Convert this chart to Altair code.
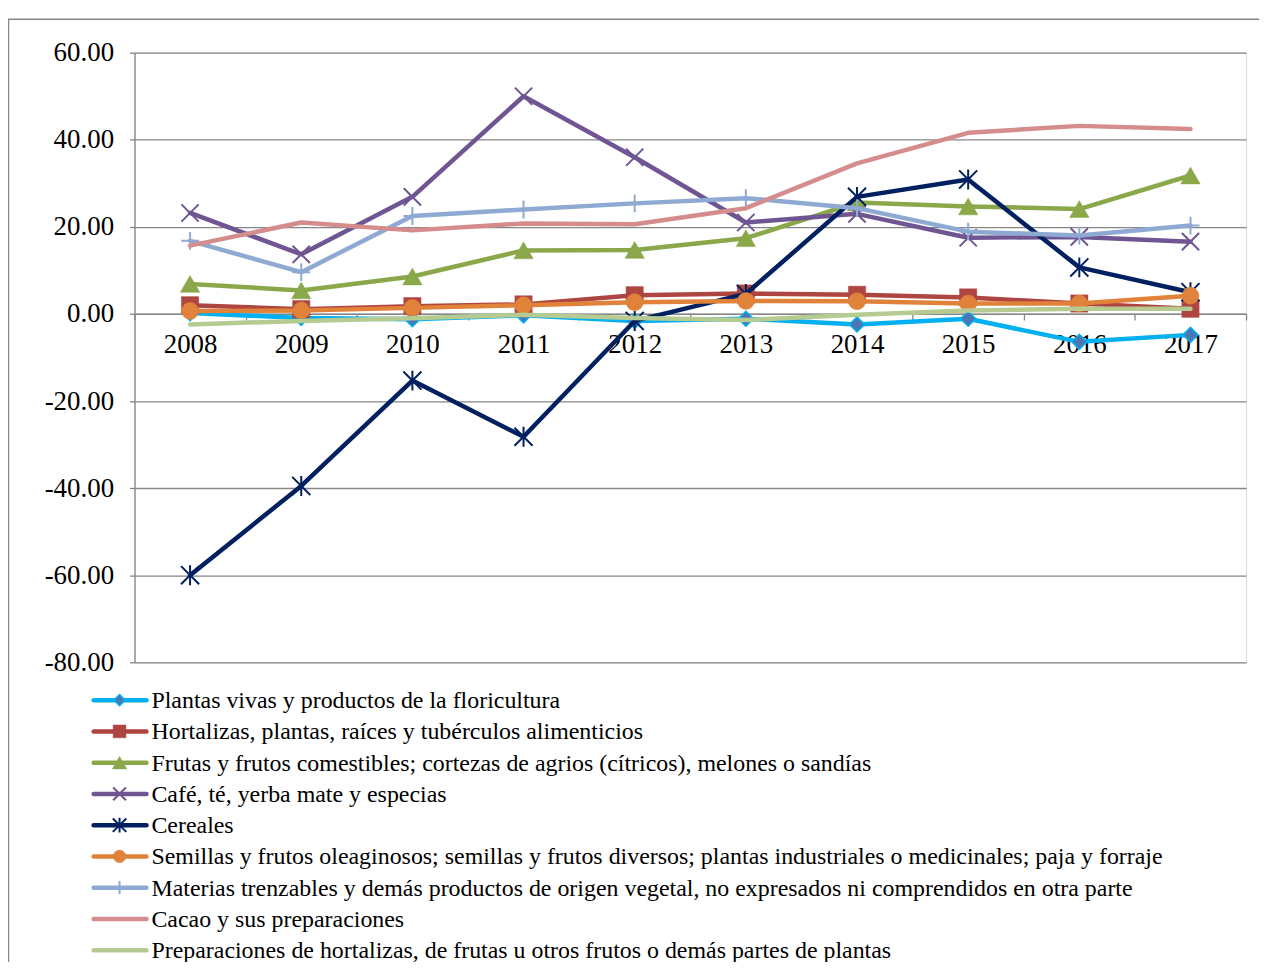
import altair as alt
import pandas as pd

years = [str(y) for y in range(2008, 2018)]

series = [
    "Plantas vivas y productos de la floricultura",
    "Hortalizas, plantas, raíces y tubérculos alimenticios",
    "Frutas y frutos comestibles; cortezas de agrios (cítricos), melones o sandías",
    "Café, té, yerba mate y especias",
    "Cereales",
    "Semillas y frutos oleaginosos; semillas y frutos diversos; plantas industriales o medicinales; paja y forraje",
    "Materias trenzables y demás productos de origen vegetal, no expresados ni comprendidos en otra parte",
    "Cacao y sus preparaciones",
    "Preparaciones de hortalizas, de frutas u otros frutos o demás partes de plantas",
]

plantas = [0.2, -0.9, -1.2, -0.3, -1.6, -1.1, -2.4, -1.1, -6.4, -4.8]
hortalizas = [2.0, 1.1, 1.8, 2.2, 4.3, 4.7, 4.4, 3.8, 2.4, 1.2]
frutas = [6.9, 5.4, 8.6, 14.6, 14.7, 17.4, 25.6, 24.7, 24.1, 31.8]
cafe = [23.2, 13.7, 26.9, 50.0, 36.0, 21.0, 23.0, 17.5, 17.7, 16.6]
cereales = [-60.0, -39.5, -15.3, -28.2, -1.6, 4.6, 26.9, 30.9, 10.7, 5.0]
semillas = [0.7, 0.8, 1.4, 2.0, 2.7, 3.0, 2.9, 2.4, 2.4, 4.2]
materias = [16.8, 9.6, 22.5, 24.0, 25.4, 26.6, 24.3, 18.9, 18.0, 20.3]
cacao = [15.7, 21.0, 19.2, 20.8, 20.6, 24.3, 34.6, 41.6, 43.2, 42.5]
preparaciones = [-2.4, -1.6, -1.0, -0.2, -0.9, -1.4, -0.2, 0.8, 1.2, 1.2]

values = [plantas, hortalizas, frutas, cafe, cereales, semillas, materias, cacao, preparaciones]

y_ticks = [-80, -60, -40, -20, 0, 20, 40, 60]

# styles
line_colors = ["#00B0F0", "#AE4541", "#8AA84A", "#6F5592", "#002060",
               "#E0823A", "#8EAAD2", "#D48D8C", "#B5CB91"]
X_PATH = "M-1,-1L1,1M-1,1L1,-1"
AST_PATH = "M-1,-1L1,1M-1,1L1,-1M0,-1.1L0,1.1"
PLUS_PATH = "M-1,0L1,0M0,-1L0,1"
marker_shape = ["diamond", "square", "triangle-up", X_PATH, AST_PATH, "circle", PLUS_PATH, None, None]
marker_filled = [True, True, True, False, False, True, False, False, False]
marker_fill = ["#4A76B3", "#AE4541", "#8AA84A", None, None, "#E0823A", None, None, None]
marker_stroke = ["#00B0F0", "#AE4541", "#8AA84A", "#6F5592", "#002060", "#E0823A", "#8EAAD2", None, None]
marker_sw = [1.5, 0.5, 0.5, 2, 2, 0.5, 2, 0, 0]
marker_size = [230, 300, 380, 300, 330, 290, 320, 0, 0]

FONT = "Liberation Serif"
GREY = "#868686"
W, H = 1116, 612
ymin, ymax = -80, 60

rows = []
for s, vals in zip(series, values):
    for yr, v in zip(years, vals):
        rows.append({"serie": s, "anio": yr, "valor": v})
df = pd.DataFrame(rows)
leg_df = pd.DataFrame({"serie": series})

x_enc = alt.X(
    "anio:O",
    bandPosition=0.5,
    scale=alt.Scale(type="band", domain=years, paddingInner=0, paddingOuter=0),
    axis=alt.Axis(
        title=None, orient="bottom", offset=-H * (0 - ymin) / (ymax - ymin),
        labelAngle=0, labelFont=FONT, labelFontSize=27, labelColor="black",
        labelPadding=12, domainColor=GREY, domainWidth=1.3, tickColor=GREY,
        tickWidth=1.3, tickSize=6, tickBand="extent", grid=False,
    ),
)
y_enc = alt.Y(
    "valor:Q",
    scale=alt.Scale(domain=[ymin, ymax], nice=False, zero=False),
    axis=alt.Axis(
        title=None, values=y_ticks, format=".2f",
        labelExpr="replace(format(datum.value, '.2f'), '\u2212', '-')",
        labelFont=FONT, labelFontSize=27, labelColor="black", labelPadding=16,
        domainColor=GREY, domainWidth=1.3, tickColor=GREY, tickWidth=1.3,
        tickSize=5, grid=True, gridColor=GREY, gridWidth=1.3,
    ),
)


def marker(i, base, scale=1.0):
    shp = marker_shape[i]
    if shp is None:
        return None
    if marker_filled[i]:
        return base.mark_point(shape=shp, filled=True, size=marker_size[i] * scale,
                               fill=marker_fill[i], stroke=marker_stroke[i],
                               strokeWidth=marker_sw[i], opacity=1)
    return base.mark_point(shape=shp, filled=False, size=marker_size[i] * scale,
                           stroke=marker_stroke[i], strokeWidth=marker_sw[i], opacity=1)


frame = alt.Chart(alt.Data(values=[{}])).mark_rect(
    fill=None, stroke=GREY, strokeWidth=1.5
).encode(x=alt.value(-126.5), x2=alt.value(W + 200), y=alt.value(-33.5), y2=alt.value(H + 400))

data_layers = [frame]
for i, s in enumerate(series):
    base = alt.Chart(df).transform_filter(alt.datum.serie == s).encode(x=x_enc, y=y_enc)
    data_layers.append(base.mark_line(color=line_colors[i], strokeWidth=4.5,
                                      strokeJoin="round", strokeCap="round"))
    m = marker(i, base)
    if m is not None:
        data_layers.append(m)

data_chart = alt.layer(*data_layers)

leg_y = alt.Y("serie:N", axis=None,
              scale=alt.Scale(type="point", domain=series, range=[650, 901], padding=0))

leg_lines = alt.Chart(leg_df).mark_rule(strokeWidth=4.5, strokeCap="round").encode(
    x=alt.value(-41), x2=alt.value(12), y=leg_y,
    color=alt.Color("serie:N", scale=alt.Scale(domain=series, range=line_colors), legend=None),
)
leg_text = alt.Chart(leg_df).mark_text(
    align="left", baseline="middle", font=FONT, fontSize=24, color="black", dy=1
).encode(x=alt.value(17), y=leg_y, text="serie:N")

leg_layers = [leg_lines]
for i, s in enumerate(series):
    base = alt.Chart(leg_df).transform_filter(alt.datum.serie == s).encode(
        x=alt.value(-15), y=leg_y)
    m = marker(i, base, 0.55)
    if m is not None:
        leg_layers.append(m)
leg_layers.append(leg_text)
legend_chart = alt.layer(*leg_layers)

chart = alt.layer(data_chart, legend_chart).resolve_scale(
    y="independent", color="independent"
).properties(
    width=W, height=H,
    autosize=alt.AutoSizeParams(type="none"),
    padding={"left": 127, "top": 43, "right": 13, "bottom": 299},
).configure_view(stroke=None).configure(background="white")

chart.save("out.html", embed_options={"renderer": "svg", "actions": False})
